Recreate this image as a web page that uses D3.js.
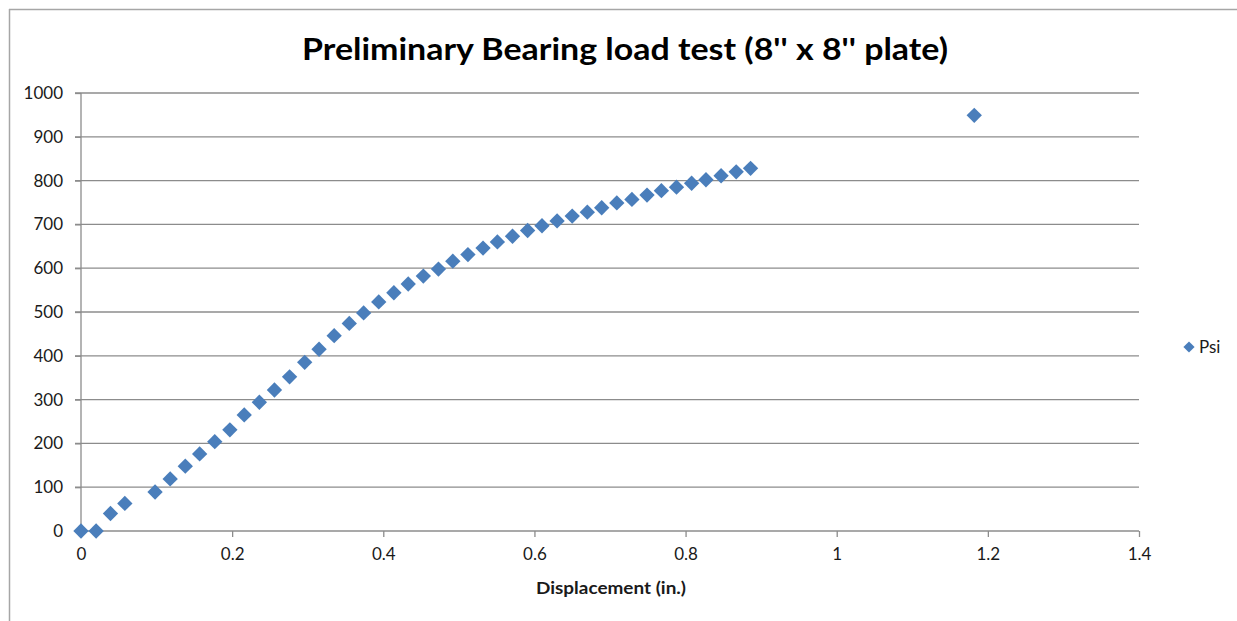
<!DOCTYPE html>
<html><head><meta charset="utf-8">
<script src="https://cdn.jsdelivr.net/npm/d3@7/dist/d3.min.js"></script>
<style>body{margin:0;background:#fff;} svg{display:block;}</style>
</head><body>
<script>
const displacement = [0, 0.02, 0.039, 0.058, 0.098, 0.118, 0.138, 0.157, 0.177, 0.197, 0.216, 0.236, 0.256, 0.276, 0.296, 0.315, 0.335, 0.355, 0.374, 0.394, 0.414, 0.433, 0.453, 0.473, 0.492, 0.512, 0.532, 0.551, 0.571, 0.591, 0.610, 0.630, 0.650, 0.670, 0.689, 0.709, 0.729, 0.749, 0.768, 0.788, 0.808, 0.827, 0.847, 0.867, 0.886, 1.182];
const psi = [0, 0, 40, 63, 89, 119, 148, 176, 204, 231, 265, 294, 322, 352, 385, 415, 446, 474, 498, 523, 544, 564, 582, 598, 616, 631, 646, 660, 673, 686, 697, 708, 719, 728, 738, 749, 757, 767, 777, 785, 794, 802, 811, 820, 828, 949];
const xTicks = [0, 0.2, 0.4, 0.6, 0.8, 1, 1.2, 1.4];
const yTicks = [0, 100, 200, 300, 400, 500, 600, 700, 800, 900, 1000];
const titleText = "Preliminary Bearing load test (8'' x 8'' plate)";
const xTitle = "Displacement (in.)";
const seriesName = "Psi";

const W = 1237, H = 621;
const font = "Lato, 'Open Sans', 'Liberation Sans', sans-serif";
const blue = "#4a7ebb";
const grid = "#8c8c8c";
const svg = d3.select("body").append("svg").attr("width", W).attr("height", H);

// frame
svg.append("line").attr("x1", 9).attr("x2", W).attr("y1", 9.5).attr("y2", 9.5).attr("stroke", "#a6a6a6").attr("stroke-width", 1.5);
svg.append("line").attr("x1", 9.5).attr("x2", 9.5).attr("y1", 9).attr("y2", H).attr("stroke", "#a6a6a6").attr("stroke-width", 1.5);

const x = d3.scaleLinear().domain([0, 1.4]).range([81, 1139]);
const y = d3.scaleLinear().domain([0, 1000]).range([531, 93]);

// gridlines
svg.append("g").selectAll("line").data(yTicks.filter(d => d > 0)).join("line")
  .attr("x1", 75).attr("x2", 1139).attr("y1", d => y(d)).attr("y2", d => y(d))
  .attr("stroke", grid).attr("stroke-width", 1.3);

// y axis
const yAx = svg.append("g").attr("transform", "translate(81,0)")
  .call(d3.axisLeft(y).tickValues(yTicks).tickSize(6).tickPadding(12).tickFormat(d3.format("d")));
yAx.select(".domain").attr("stroke", grid).attr("stroke-width", 1.3).attr("d", "M0,531V93");
yAx.selectAll(".tick line").attr("stroke", grid).attr("stroke-width", 1.3);
yAx.selectAll("text").attr("font-family", font).attr("font-size", 17).attr("fill", "#1a1a1a");

// x axis
const xAx = svg.append("g").attr("transform", "translate(0,531)")
  .call(d3.axisBottom(x).tickValues(xTicks).tickSize(6).tickPadding(11).tickFormat(d => String(d)));
xAx.select(".domain").attr("stroke", grid).attr("stroke-width", 1.3).attr("d", "M75,0H1139");
xAx.selectAll(".tick line").attr("stroke", grid).attr("stroke-width", 1.3);
xAx.selectAll("text").attr("font-family", font).attr("font-size", 17).attr("fill", "#1a1a1a");

// points
const diamond = d3.symbol().type(d3.symbolDiamond2).size(150);
svg.append("g").selectAll("path").data(displacement.map((d, i) => [d, psi[i]])).join("path")
  .attr("d", diamond)
  .attr("transform", d => `translate(${x(d[0])},${y(d[1])})`)
  .attr("fill", blue);

// title
svg.append("text").attr("x", 625).attr("y", 60).attr("text-anchor", "middle")
  .attr("font-family", font).attr("font-weight", "bold").attr("font-size", 30).attr("fill", "#000")
  .attr("textLength", 646).attr("lengthAdjust", "spacingAndGlyphs")
  .text(titleText);

// x axis title
svg.append("text").attr("x", 611).attr("y", 594).attr("text-anchor", "middle")
  .attr("font-family", font).attr("font-weight", "bold").attr("font-size", 17).attr("fill", "#1a1a1a")
  .attr("textLength", 150).attr("lengthAdjust", "spacingAndGlyphs")
  .text(xTitle);

// legend
svg.append("path").attr("d", d3.symbol().type(d3.symbolDiamond2).size(80))
  .attr("transform", "translate(1189,347)").attr("fill", blue);
svg.append("text").attr("x", 1199).attr("y", 353).attr("font-family", font).attr("font-size", 17).attr("fill", "#1a1a1a").text(seriesName);
</script>
</body></html>
